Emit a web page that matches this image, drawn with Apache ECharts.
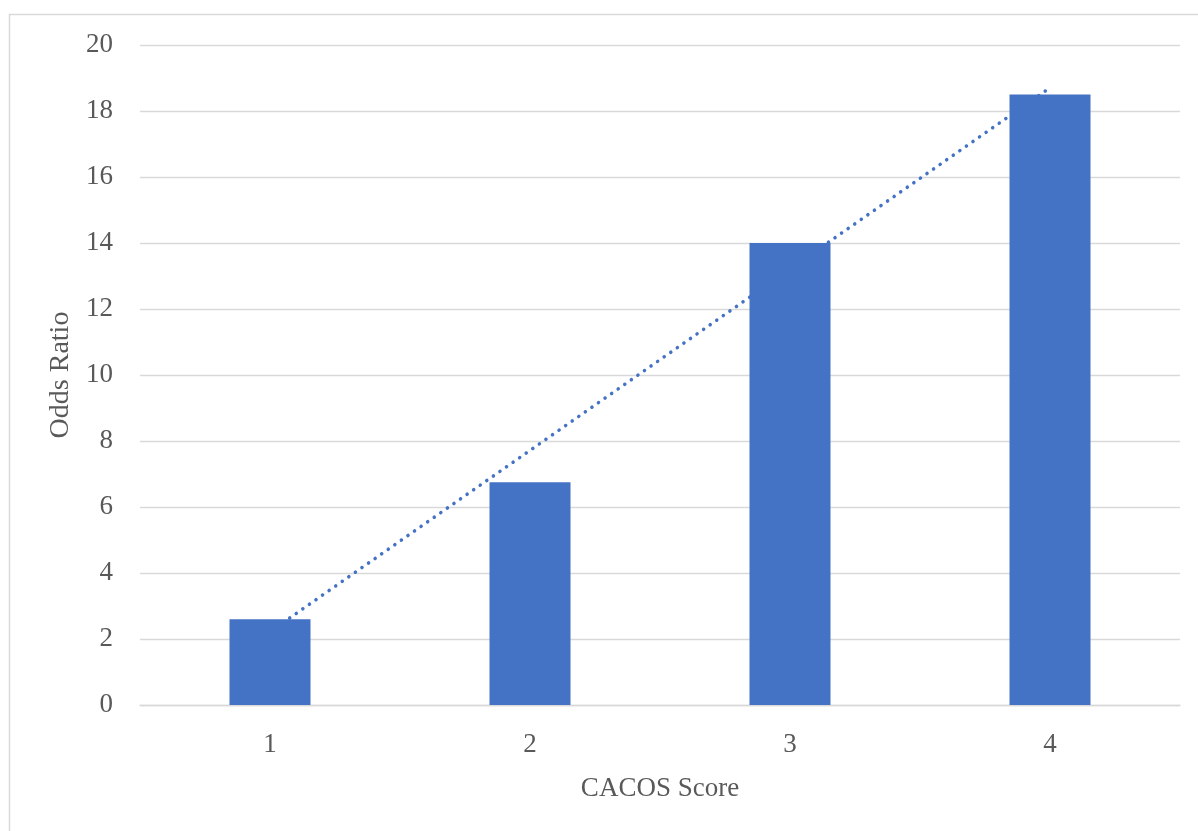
<!DOCTYPE html>
<html>
<head>
<meta charset="utf-8">
<script src="https://cdn.jsdelivr.net/npm/echarts@6/dist/echarts.min.js"></script>
<style>
  html, body { margin: 0; padding: 0; background: #ffffff; }
  #chart { width: 1198px; height: 831px; }
</style>
</head>
<body>
<div id="chart"></div>
<script>
// CACOS score categories and odds ratio per score
const categories = ['1', '2', '3', '4'];
const oddsRatio = [2.6, 6.75, 14, 18.5];
const yTicks = { min: 0, max: 20, interval: 2 };

// Linear least-squares trendline over the category positions 1..n
function linearTrend(values) {
  const n = values.length;
  const xs = values.map((_, i) => i + 1);
  const mx = xs.reduce((a, b) => a + b, 0) / n;
  const my = values.reduce((a, b) => a + b, 0) / n;
  let sxy = 0, sxx = 0;
  for (let i = 0; i < n; i++) {
    sxy += (xs[i] - mx) * (values[i] - my);
    sxx += (xs[i] - mx) * (xs[i] - mx);
  }
  const slope = sxy / sxx;
  const intercept = my - slope * mx;
  return xs.map(x => intercept + slope * x);
}
const trend = linearTrend(oddsRatio);

const FONT = '"Liberation Serif", "DejaVu Serif", serif';
const TEXT = '#595959';
const BLUE = '#4472C4';
const GRID = '#D9D9D9';

const chart = echarts.init(document.getElementById('chart'), null, { renderer: 'canvas' });
chart.setOption({
  animation: false,
  backgroundColor: '#ffffff',
  graphic: [{
    type: 'rect',
    shape: { x: 9.5, y: 14.5, width: 1300, height: 1000 },
    style: { fill: 'none', stroke: GRID, lineWidth: 1.5 },
    silent: true,
    z: -10
  }],
  grid: { left: 140, right: 18, top: 45, bottom: 126, containLabel: false },
  xAxis: {
    type: 'category',
    data: categories,
    boundaryGap: true,
    name: 'CACOS Score',
    nameLocation: 'middle',
    nameGap: 70,
    nameTextStyle: { fontFamily: FONT, fontSize: 27, color: TEXT },
    axisLine: { show: true, lineStyle: { color: GRID, width: 1.3 } },
    axisTick: { show: false },
    axisLabel: { fontFamily: FONT, fontSize: 27, color: TEXT, margin: 26 }
  },
  yAxis: {
    type: 'value',
    min: yTicks.min,
    max: yTicks.max,
    interval: yTicks.interval,
    name: 'Odds Ratio',
    nameLocation: 'middle',
    nameGap: 64,
    nameRotate: 90,
    nameTextStyle: { fontFamily: FONT, fontSize: 28, color: TEXT },
    axisLine: { show: false },
    axisTick: { show: false },
    axisLabel: { fontFamily: FONT, fontSize: 27, color: TEXT, margin: 27 },
    splitLine: { show: true, lineStyle: { color: GRID, width: 1.3 } }
  },
  series: [
    {
      name: 'Linear trend',
      type: 'line',
      data: trend,
      symbol: 'none',
      z: 1,
      lineStyle: { color: BLUE, width: 3.6, type: [0.01, 8], cap: 'round' }
    },
    {
      name: 'Odds Ratio',
      type: 'bar',
      data: oddsRatio,
      barWidth: 81,
      z: 2,
      itemStyle: { color: BLUE }
    }
  ]
});
</script>
</body>
</html>
